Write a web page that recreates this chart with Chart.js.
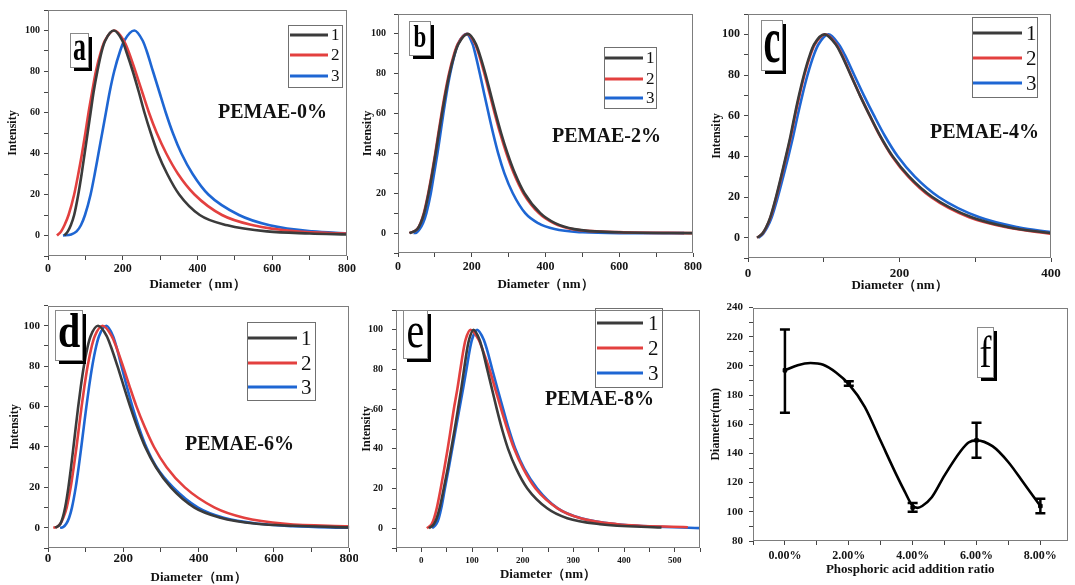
<!DOCTYPE html>
<html>
<head>
<meta charset="utf-8">
<script src="https://cdn.jsdelivr.net/npm/chart.js@4.4.1/dist/chart.umd.min.js"></script>
<style>
  body { margin: 0; background: #fff; }
  #wrap { position: relative; width: 1075px; height: 585px; overflow: hidden; }
  canvas { position: absolute; }
</style>
</head>
<body>
<div id="wrap">
  <canvas id="pa"></canvas>
  <canvas id="pb"></canvas>
  <canvas id="pc"></canvas>
  <canvas id="pd"></canvas>
  <canvas id="pe"></canvas>
  <canvas id="pf"></canvas>
</div>
<script>
// ---- data: [diameter nm, intensity] ----
const seriesNames = ['1', '2', '3'];
const lineColors = ['#3b3b3b', '#e3403f', '#1e66d3'];

// a) PEMAE-0%
const a1 = [[44,0],[53,2],[61,5],[70,10],[81,20],[90,30],[98,40],[106,50],[114,60],[122,70],[132,80],[144,90],[153,95],[176,100],[199,95],[209,90],[227,80],[243,70],[258,60],[275,50],[294,40],[319,30],[351,20],[406,10],[480,5],[586,2],[700,1],[800,0.5]];
const a2 = [[24,0],[35,2],[44,5],[55,10],[70,20],[81,30],[91,40],[100,50],[108.5,60],[118,70],[128,80],[142,90],[152,95],[178,100],[203,95],[215,90],[234,80],[252,70],[270,60],[291,50],[316.5,40],[348,30],[392,20],[465.5,10],[549,5],[663,2],[800,1]];
const a3 = [[40,0],[62,0.5],[76.5,2],[88,5],[99,10],[114,20],[125,30],[135,40],[145,50],[155,60],[165,70],[177,80],[193,90],[204,95],[231,100],[253.5,95],[264,90],[281,80],[298,70],[315,60],[334,50],[357,40],[387,30],[429,20],[511,10],[593,5],[707,2],[800,1.1]];

// b) PEMAE-2%
const b1 = [[31,0],[52.5,2],[61.6,5],[71,10],[83,20],[93,30],[102,40],[110.6,50],[119.3,60],[128.8,70],[139.7,80],[153.8,90],[164,95],[190,100],[211,95],[221,90],[237,80],[251,70],[265,60],[280,50],[297,40],[317,30],[343,20],[386,10],[426,5],[478,2],[600,0.4],[800,0]];
const b2 = [[31,0],[52,2],[61,5],[70,10],[82,20],[92,30],[101,40],[109.4,50],[118,60],[127.4,70],[138.2,80],[152.2,90],[162.3,95],[188,100],[209,95],[219,90],[234.4,80],[248.5,70],[262.4,60],[277.2,50],[294,40],[314,30],[340,20],[382,10],[422,5],[473,2],[600,0.5],[800,0]];
const b3 = [[42,0],[50,0.2],[59,2],[68,5],[77,10],[89,20],[98,30],[107,40],[115,50],[123,60],[131.5,70],[141.4,80],[154,90],[163,95],[186,100],[202,95],[209.6,90],[222,80],[233.7,70],[245.6,60],[258,50],[271.7,40],[288.6,30],[311.3,20],[345,10],[380,5],[424.5,2],[500,0.4],[600,0],[776,0]];

// c) PEMAE-4%
const c1 = [[12,0],[18.9,2],[23.8,5],[29.4,10],[37,20],[43.7,30],[50,40],[56.1,50],[61.5,60],[67.3,70],[73.8,80],[81.8,90],[87.2,95],[101,100],[115.9,95],[123.3,90],[135.5,80],[147.7,70],[160.8,60],[174.6,50],[190.9,40],[212.8,30],[243.3,20],[295.3,10],[346,5],[400,2.2]];
const c2 = [[12,0],[19.1,2],[24,5],[29.7,10],[37.4,20],[44.1,30],[50.5,40],[56.7,50],[62.1,60],[68,70],[74.5,80],[82.6,90],[88.1,95],[102,100],[116.7,95],[124,90],[135.9,80],[147.9,70],[160.8,60],[174.2,50],[190.1,40],[211.5,30],[241.3,20],[291.9,10],[342.7,5],[400,1.9]];
const c3 = [[14,0],[20.1,2],[25.3,5],[31.3,10],[39.4,20],[46.5,30],[53.3,40],[59.7,50],[65.5,60],[71.7,70],[78.6,80],[87.1,90],[92.9,95],[106,100],[120,95],[127.6,90],[140.2,80],[152.9,70],[166.4,60],[180.7,50],[197.6,40],[220.2,30],[251.8,20],[305.6,10],[358.1,5],[400,2.7]];

// d) PEMAE-6%
const d1 = [[19,0],[32.9,2],[39.1,5],[45.5,10],[54.2,20],[61.2,30],[67.6,40],[73.8,50],[80.2,60],[87.2,70],[95.2,80],[105.7,90],[113.3,95],[133,100],[155.6,95],[166.5,90],[184.5,80],[201.2,70],[218.3,60],[236.8,50],[258.2,40],[286.7,30],[326.2,20],[388.9,10],[457.9,5],[553.8,2],[650,1],[800,0.2]];
const d2 = [[14,0],[24,0.5],[32.9,2],[40.6,5],[49.6,10],[60.2,20],[68.3,30],[75.7,40],[82.4,50],[89.2,60],[96.7,70],[105.2,80],[116.3,90],[124.4,95],[145,100],[168.8,95],[180.3,90],[199.1,80],[216.6,70],[235.1,60],[256.6,50],[281.5,40],[315,30],[363.3,20],[442.6,10],[520.4,5],[629.6,2],[800,0.7]];
const d3 = [[32,0],[40,0.3],[48.5,2],[56.1,5],[63.6,10],[73.6,20],[81.4,30],[88.4,40],[95.1,50],[101.9,60],[109.2,70],[117.5,80],[128.1,90],[135.7,95],[155,100],[172.5,95],[181.2,90],[195.2,80],[209.2,70],[224.2,60],[241,50],[261,40],[288.4,30],[332.3,20],[398.5,10],[466.4,5],[561.2,2],[650,0.8],[800,0]];

// e) PEMAE-8%
const e1 = [[15,0],[24.7,2],[30.3,5],[36,10],[44.3,20],[52,30],[59.1,40],[65.9,50],[72.3,60],[78.6,70],[84.3,80],[90.2,90],[94.2,95],[103,100],[114.8,95],[120.7,90],[130.1,80],[139.6,70],[149,60],[159.2,50],[171.2,40],[187.2,30],[209.2,20],[248.3,10],[288,5],[352.6,2],[474,0.3]];
const e2 = [[11,0],[20.3,2],[25.2,5],[30.4,10],[38.2,20],[45.3,30],[52,40],[58.1,50],[64.1,60],[71,70],[77,80],[83.2,90],[87.3,95],[97,100],[113.1,95],[120.9,90],[134.6,80],[146.1,70],[157.6,60],[169.7,50],[183.3,40],[201.2,30],[225.4,20],[268.8,10],[314.1,5],[387.3,2],[526,0.5]];
const e3 = [[21,0],[29.5,2],[34.4,5],[39.3,10],[46.5,20],[53.9,30],[61,40],[67.9,50],[75,60],[82.2,70],[89,80],[95.6,90],[99.9,95],[110,100],[123.2,95],[129.6,90],[140,80],[150.6,70],[161.5,60],[172.6,50],[185.5,40],[203.1,30],[228.7,20],[269.2,10],[315.2,5],[387.3,2],[553,0]];

const panelNames = ['PEMAE-0%', 'PEMAE-2%', 'PEMAE-4%', 'PEMAE-6%', 'PEMAE-8%'];

// f) mean diameter vs phosphoric acid ratio
const fX = [0, 2, 4, 6, 8];
const fLabels = ['0.00%', '2.00%', '4.00%', '6.00%', '8.00%'];
const fY = [197, 188, 103, 149, 104];
const fLow = [168, 186.5, 100, 137, 99];
const fHigh = [225, 189.5, 106, 161, 109];
// smooth trend line as drawn in the figure
const fCurveX = [0, 0.4, 0.8, 1.2, 1.6, 2, 2.5, 3, 3.5, 3.75, 4, 4.15, 4.3, 4.6, 5, 5.5, 5.75, 6, 6.5, 7, 7.5, 8];
const fCurveY = [197, 200.5, 202, 200.8, 195.5, 187.5, 172, 148.5, 125, 114, 104, 102.7, 104, 110, 125, 141.5, 147.5, 149, 145, 134, 119, 104];

const SERIF = '"Liberation Serif", "Times New Roman", Times, serif';

function ticksFrom(first, last, step) {
  const out = [];
  for (let v = first; v <= last + 1e-9; v += step) out.push({ value: Math.round(v * 1000) / 1000 });
  return out;
}

function pts(pairs) {
  return pairs.map(p => ({ x: p[0], y: p[1] }));
}

function scaleX(p) {
  const ax = p.xAxis;
  return {
    type: 'linear', min: ax.min, max: ax.max,
    afterBuildTicks: s => { s.ticks = ticksFrom(ax.first, ax.last, ax.step); },
    afterFit: s => { s.height = p.top + p.h - p.area[3]; },
    ticks: {
      autoSkip: false, maxRotation: 0, minRotation: 0, padding: ax.pad, color: '#151515',
      font: { family: SERIF, size: ax.size, weight: 'bold' },
      callback: ax.label
    },
    grid: { drawOnChartArea: false, drawTicks: true, tickLength: 4, color: '#444', lineWidth: 1 },
    border: { display: false },
    title: { display: true, text: ax.title, color: '#111',
      font: { family: SERIF, size: 13, weight: 'bold' }, padding: { top: 0, bottom: 0 } }
  };
}

function scaleY(p) {
  const ax = p.yAxis;
  return {
    type: 'linear', min: ax.min, max: ax.max,
    afterBuildTicks: s => { s.ticks = ticksFrom(ax.min, ax.max, ax.step); },
    afterFit: s => { s.width = p.area[0] - p.left; },
    ticks: {
      autoSkip: false, padding: ax.pad, color: '#151515',
      font: { family: SERIF, size: ax.size, weight: 'bold' },
      callback: v => (v % ax.every === 0 && v >= ax.labelMin) ? String(v) : ''
    },
    grid: { drawOnChartArea: false, drawTicks: true, tickLength: 4, color: '#444', lineWidth: 1 },
    border: { display: false },
    title: { display: true, text: ax.title, color: '#111',
      font: { family: SERIF, size: 12, weight: 'bold' }, padding: { top: ax.titlePad, bottom: 0 } }
  };
}

function decor(p) {
  return {
    id: 'decor',
    afterDraw(chart) {
      const ctx = chart.ctx, a = chart.chartArea;
      const ox = p.left, oy = p.top;
      ctx.save();
      // plot frame
      ctx.strokeStyle = '#7d7d7d';
      ctx.lineWidth = 1;
      ctx.strokeRect(Math.round(a.left) + 0.5, Math.round(a.top) + 0.5,
        Math.round(a.right - a.left) - 1, Math.round(a.bottom - a.top) - 1);

      // legend box
      if (p.legend) {
        const lg = p.legend;
        ctx.strokeStyle = '#707070';
        ctx.lineWidth = 1;
        ctx.strokeRect(lg.box[0] - ox + 0.5, lg.box[1] - oy + 0.5, lg.box[2], lg.box[3]);
        chart.data.datasets.forEach((ds, i) => {
          const y = lg.rows[i] - oy;
          ctx.strokeStyle = ds.borderColor;
          ctx.lineWidth = 3;
          ctx.beginPath();
          ctx.moveTo(lg.line[0] - ox, y);
          ctx.lineTo(lg.line[1] - ox, y);
          ctx.stroke();
          ctx.fillStyle = '#111';
          ctx.font = lg.size + 'px ' + SERIF;
          ctx.textAlign = 'left';
          ctx.textBaseline = 'middle';
          ctx.fillText(ds.label, lg.textX - ox, y + 1);
        });
      }

      // sample name
      if (p.name) {
        ctx.fillStyle = '#111';
        ctx.font = 'bold 20px ' + SERIF;
        ctx.textAlign = 'left';
        ctx.textBaseline = 'middle';
        ctx.fillText(p.name, p.nameAt[0] - ox, p.nameAt[1] - oy);
      }

      // panel letter with drop shadow
      const t = p.tag;
      const bx = t.box[0] - ox, by = t.box[1] - oy, bw = t.box[2], bh = t.box[3];
      ctx.fillStyle = '#000';
      ctx.fillRect(bx + 4, by + 4, bw, bh);
      ctx.fillStyle = '#fff';
      ctx.fillRect(bx, by, bw, bh);
      ctx.strokeStyle = '#8a8a8a';
      ctx.lineWidth = 1;
      ctx.strokeRect(bx + 0.5, by + 0.5, bw, bh);
      ctx.save();
      ctx.translate(bx + bw / 2 + 0.5, t.base - oy);
      ctx.scale(1, t.sy);
      ctx.font = (t.bold ? 'bold ' : '') + t.size + 'px ' + SERIF;
      ctx.textAlign = 'center';
      ctx.textBaseline = 'alphabetic';
      ctx.fillStyle = '#000';
      ctx.fillText(t.text, 0, 0);
      ctx.restore();

      ctx.restore();
    }
  };
}

function build(id, p, datasets) {
  const cv = document.getElementById(id);
  cv.width = p.w;
  cv.height = p.h;
  cv.style.left = p.left + 'px';
  cv.style.top = p.top + 'px';
  return new Chart(cv, {
    type: 'line',
    data: { datasets: datasets },
    options: {
      responsive: false,
      animation: false,
      layout: { padding: { top: p.area[1] - p.top, right: p.left + p.w - p.area[2], bottom: 0, left: 0 } },
      scales: { x: scaleX(p), y: scaleY(p) },
      plugins: { legend: { display: false }, tooltip: { enabled: false } }
    },
    plugins: [decor(p)]
  });
}

function curves(list) {
  return list.map((c, i) => ({
    label: seriesNames[i],
    data: pts(c),
    borderColor: lineColors[i],
    borderWidth: 2.6,
    pointRadius: 0,
    cubicInterpolationMode: 'monotone',
    fill: false
  }));
}

const intensityY = (size, pad, titlePad) => ({
  min: -10, max: 110, step: 10, every: 20, labelMin: 0, size: size, pad: pad, title: 'Intensity', titlePad: titlePad
});
const diamX = (min, max, step, every, size, pad) => ({
  min: min, max: max, first: min, last: max, step: step, size: size, pad: pad, title: 'Diameter（nm）',
  label: v => (v % every === 0 && v >= 0) ? String(v) : ''
});

// ---- panels ----
build('pa', {
  left: 0, top: 0, w: 358, h: 292, area: [48, 10, 352, 256],
  xAxis: diamX(0, 800, 100, 200, 12, 2), yAxis: intensityY(10, 4, 6),
  legend: { box: [288, 25, 54, 62], line: [290, 328], textX: 331, rows: [35, 55, 76], size: 17 },
  name: panelNames[0], nameAt: [218, 113],
  tag: { text: 'a', box: [70, 33, 18, 34], base: 60, size: 26, sy: 1.5, bold: true }
}, curves([a1, a2, a3]));

build('pb', {
  left: 357, top: 0, w: 348, h: 292, area: [398, 13, 697, 253],
  xAxis: diamX(0, 800, 100, 200, 12, 3), yAxis: intensityY(10, 8, 4),
  legend: { box: [604, 47, 52, 61], line: [605, 643], textX: 646, rows: [58, 79, 98], size: 17 },
  name: panelNames[1], nameAt: [552, 137],
  tag: { text: 'b', box: [409, 21, 21, 34], base: 47, size: 23, sy: 1.4, bold: true }
}, curves([b1, b2, b3]));

build('pc', {
  left: 705, top: 0, w: 370, h: 293, area: [748, 14, 1051, 258],
  xAxis: diamX(0, 400, 100, 200, 13, 4), yAxis: intensityY(12, 4, 5),
  legend: { box: [972, 17, 65, 80], line: [973, 1022], textX: 1026, rows: [33, 58, 83], size: 21 },
  name: panelNames[2], nameAt: [930, 133],
  tag: { text: 'c', box: [761, 20, 21, 50], base: 62, size: 38, sy: 1.7, bold: true }
}, curves([c1, c2, c3]));

build('pd', {
  left: 0, top: 295, w: 358, h: 290, area: [48, 304, 352, 548],
  xAxis: diamX(0, 800, 100, 200, 13, -1), yAxis: intensityY(11, 4, 8),
  legend: { box: [247, 322, 68, 78], line: [248, 297], textX: 301, rows: [338, 363, 387], size: 21 },
  name: panelNames[3], nameAt: [185, 445],
  tag: { text: 'd', box: [55, 310, 27, 50], base: 347, size: 40, sy: 1.22, bold: true }
}, curves([d1, d2, d3]));

build('pe', {
  left: 357, top: 295, w: 348, h: 287, area: [396, 307, 700, 548],
  xAxis: diamX(-50, 550, 50, 100, 9, 3), yAxis: intensityY(10, 9, 3),
  legend: { box: [595, 308, 67, 79], line: [597, 643], textX: 648, rows: [323, 348, 373], size: 21 },
  name: panelNames[4], nameAt: [545, 400],
  tag: { text: 'e', box: [403, 310, 24, 48], base: 347, size: 40, sy: 1.28, bold: false }
}, curves([e1, e2, e3]));

// f: trend line, data markers, error bars (two-point datasets with line caps)
const fTrend = {
  label: 'trend',
  data: fCurveX.map((x, i) => ({ x: x, y: fCurveY[i] })),
  borderColor: '#000',
  borderWidth: 2.6,
  cubicInterpolationMode: 'monotone',
  pointRadius: 0,
  fill: false
};
const fMarks = {
  label: 'mean',
  data: fX.map((x, i) => ({ x: x, y: fY[i] })),
  showLine: false,
  pointStyle: 'rect',
  pointRadius: 2.5,
  pointBackgroundColor: '#000',
  pointBorderColor: '#000'
};
const fBars = fX.map((x, i) => ({
  label: '',
  data: [{ x: x, y: fLow[i] }, { x: x, y: fHigh[i] }],
  borderColor: '#000',
  borderWidth: 2.5,
  tension: 0,
  pointStyle: 'line',
  pointRadius: 5,
  pointBorderWidth: 2.5,
  pointBorderColor: '#000',
  fill: false
}));

build('pf', {
  left: 705, top: 295, w: 370, h: 282, area: [753, 302, 1073, 541],
  xAxis: {
    min: -1, max: 8.85, first: -1, last: 8, step: 1, size: 12, pad: 4, title: 'Phosphoric acid addition ratio',
    label: v => { const k = fX.indexOf(v); return k >= 0 ? fLabels[k] : ''; }
  },
  yAxis: { min: 80, max: 240, step: 10, every: 20, labelMin: 80, size: 11, pad: 6, title: 'Diameter(nm)', titlePad: 4 },
  tag: { text: 'f', box: [977, 327, 16, 50], base: 367, size: 36, sy: 1.22, bold: false }
}, [fTrend, fMarks].concat(fBars));
</script>
</body>
</html>
